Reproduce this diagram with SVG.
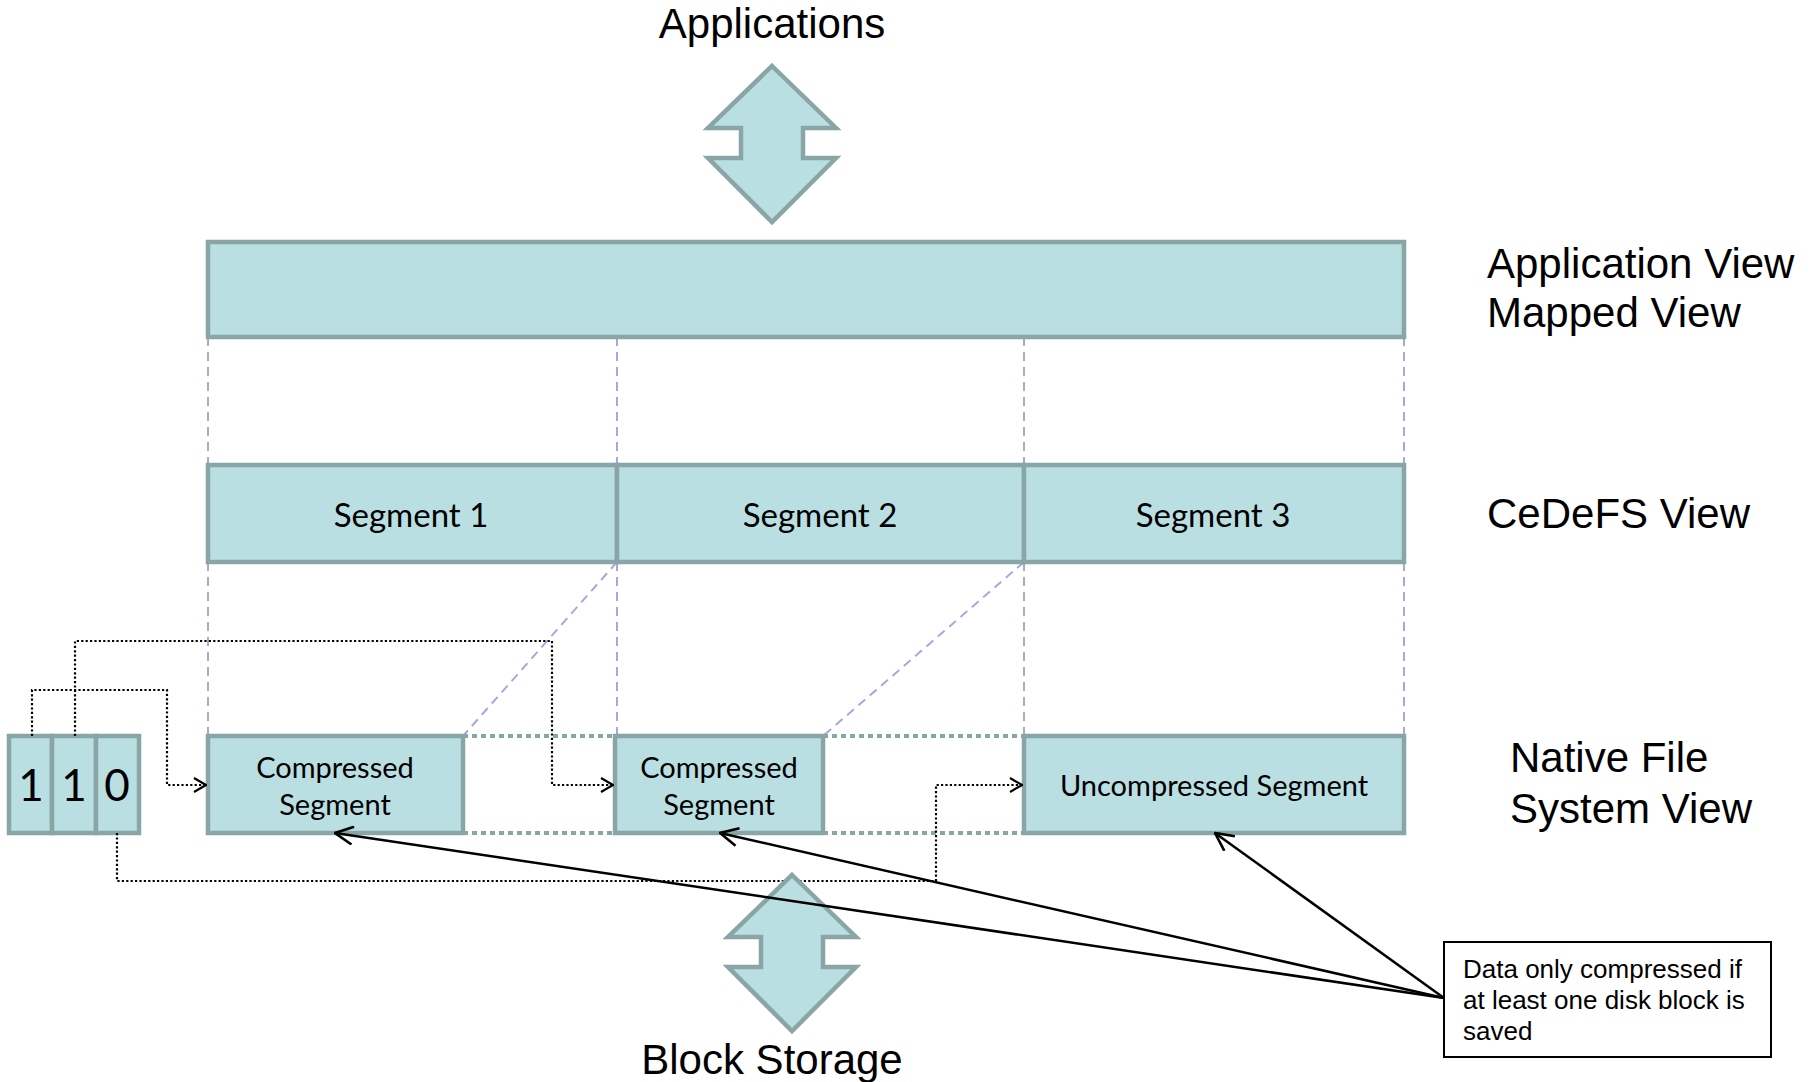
<svg xmlns="http://www.w3.org/2000/svg" width="1814" height="1082" viewBox="0 0 1814 1082">
  <style>
    .blk { fill: #BADFE2; stroke: #89A5A6; stroke-width: 4.5; }
    .seg { font-family: Lato, "Noto Sans", sans-serif; font-size: 33px; fill: #000; text-anchor: middle; }
    .lbl { font-family: "Liberation Sans", Arial, sans-serif; font-size: 42px; fill: #000; }
    .map { fill: none; stroke: #A8A8DA; stroke-width: 2; stroke-dasharray: 9 6; }
    .gap { fill: none; stroke: #89A5A6; stroke-width: 4; stroke-dasharray: 5 4; }
    .bit { fill: none; stroke: #000; stroke-width: 2.2; stroke-dasharray: 2.2 2.2; marker-end: url(#chev); }
    .ptr { fill: none; stroke: #000; stroke-width: 2.5; marker-end: url(#chevL); }
    .note { font-family: "Liberation Sans", Arial, sans-serif; font-size: 26px; fill: #000; }
  </style>
  <defs>
    <marker id="chev" viewBox="0 0 14 16" refX="13" refY="8" markerWidth="14" markerHeight="16" markerUnits="userSpaceOnUse" orient="auto">
      <path d="M1 1 L13 8 L1 15" fill="none" stroke="#000" stroke-width="2.2"/>
    </marker>
    <marker id="chevL" viewBox="0 0 20 20" refX="19" refY="10" markerWidth="20" markerHeight="20" markerUnits="userSpaceOnUse" orient="auto">
      <path d="M1 1 L19 10 L1 19" fill="none" stroke="#000" stroke-width="2.6"/>
    </marker>
    <!-- two-headed block arrow, origin at the upper tip -->
    <path id="dbl" d="M0 0 L64 62 L31 62 L31 92 L64 92 L0 156 L-64 92 L-31 92 L-31 62 L-64 62 Z"/>
  </defs>

  <rect width="1814" height="1082" fill="#fff"/>

  <!-- mapping guides between the layers -->
  <g id="mapping">
    <line class="map" x1="208" y1="337" x2="208" y2="465"/>
    <line class="map" x1="617" y1="337" x2="617" y2="465"/>
    <line class="map" x1="1024" y1="337" x2="1024" y2="465"/>
    <line class="map" x1="1404" y1="337" x2="1404" y2="465"/>
    <line class="map" x1="208" y1="562" x2="208" y2="736"/>
    <line class="map" x1="617" y1="562" x2="617" y2="736"/>
    <line class="map" x1="1024" y1="562" x2="1024" y2="736"/>
    <line class="map" x1="1404" y1="562" x2="1404" y2="736"/>
    <line class="map" x1="617" y1="562" x2="463" y2="736"/>
    <line class="map" x1="1024" y1="562" x2="823" y2="736"/>
  </g>

  <!-- freed space after compression -->
  <g id="gaps">
    <line class="gap" x1="463" y1="736" x2="615" y2="736"/>
    <line class="gap" x1="463" y1="833" x2="615" y2="833"/>
    <line class="gap" x1="823" y1="736" x2="1024" y2="736"/>
    <line class="gap" x1="823" y1="833" x2="1024" y2="833"/>
  </g>

  <g id="applications">
    <text class="lbl" x="772" y="38" text-anchor="middle">Applications</text>
    <use href="#dbl" x="772" y="66" class="blk"/>
  </g>

  <g id="application-view">
    <rect class="blk" x="208" y="242" width="1196" height="95"/>
  </g>

  <g id="cedefs-view">
    <rect class="blk" x="208" y="465" width="409" height="97"/>
    <rect class="blk" x="617" y="465" width="407" height="97"/>
    <rect class="blk" x="1024" y="465" width="380" height="97"/>
    <text class="seg" x="411" y="527">Segment 1</text>
    <text class="seg" x="820" y="527">Segment 2</text>
    <text class="seg" x="1213" y="527">Segment 3</text>
  </g>

  <g id="bitmap">
    <rect class="blk" x="9" y="736" width="43" height="97"/>
    <rect class="blk" x="52" y="736" width="44" height="97"/>
    <rect class="blk" x="96" y="736" width="43" height="97"/>
    <text class="seg" x="31" y="801" style="font-size:44px">1</text>
    <text class="seg" x="74" y="801" style="font-size:44px">1</text>
    <text class="seg" x="117" y="801" style="font-size:44px">0</text>
  </g>

  <g id="native-view">
    <rect class="blk" x="208" y="736" width="255" height="97"/>
    <rect class="blk" x="615" y="736" width="208" height="97"/>
    <rect class="blk" x="1024" y="736" width="380" height="97"/>
    <text class="seg" x="335" y="778" style="font-size:29px">Compressed</text>
    <text class="seg" x="335" y="815" style="font-size:29px">Segment</text>
    <text class="seg" x="719" y="778" style="font-size:29px">Compressed</text>
    <text class="seg" x="719" y="815" style="font-size:29px">Segment</text>
    <text class="seg" x="1214" y="796" style="font-size:29px">Uncompressed Segment</text>
  </g>

  <g id="connectors">
    <polyline class="bit" points="32,736 32,690 167,690 167,785 206,785"/>
    <polyline class="bit" points="75,736 75,641 552,641 552,785 613,785"/>
    <polyline class="bit" points="117,833 117,881 936,881 936,785 1022,785"/>
  </g>

  <g id="block-storage">
    <use href="#dbl" x="792" y="875" class="blk"/>
    <text class="lbl" x="772" y="1074" text-anchor="middle">Block Storage</text>
  </g>

  <g id="callout-pointers">
    <line class="ptr" x1="1444" y1="998" x2="335" y2="833"/>
    <line class="ptr" x1="1444" y1="998" x2="720" y2="833"/>
    <line class="ptr" x1="1444" y1="998" x2="1215" y2="833"/>
  </g>

  <g id="callout">
    <rect x="1444" y="942" width="327" height="115" fill="#fff" stroke="#000" stroke-width="2"/>
    <text class="note" x="1463" y="978">Data only compressed if</text>
    <text class="note" x="1463" y="1009">at least one disk block is</text>
    <text class="note" x="1463" y="1040">saved</text>
  </g>

  <g id="view-labels">
    <text class="lbl" x="1487" y="278">Application View</text>
    <text class="lbl" x="1487" y="327">Mapped View</text>
    <text class="lbl" x="1487" y="528">CeDeFS View</text>
    <text class="lbl" x="1510" y="772">Native File</text>
    <text class="lbl" x="1510" y="823">System View</text>
  </g>
</svg>
